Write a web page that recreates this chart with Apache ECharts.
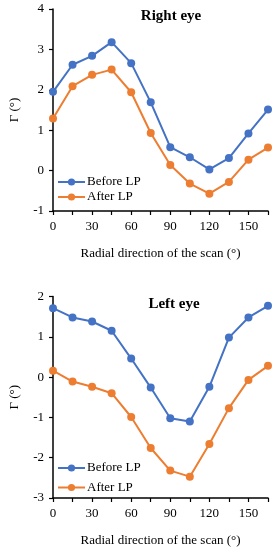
<!DOCTYPE html>
<html>
<head>
<meta charset="utf-8">
<script src="https://cdn.jsdelivr.net/npm/echarts@6/dist/echarts.min.js"></script>
<style>
html,body{margin:0;padding:0;background:#fff;}
#c{width:276px;height:550px;}
</style>
</head>
<body>
<div id="c"></div>
<script>
const angles = [0, 15, 30, 45, 60, 75, 90, 105, 120, 135, 150, 165];
const rightBefore = [1.95, 2.62, 2.84, 3.18, 2.66, 1.69, 0.58, 0.33, 0.03, 0.31, 0.92, 1.51];
const rightAfter = [1.29, 2.09, 2.37, 2.50, 1.94, 0.93, 0.14, -0.32, -0.57, -0.28, 0.27, 0.57];
const leftBefore = [1.71, 1.48, 1.38, 1.15, 0.46, -0.26, -1.02, -1.10, -0.24, 0.98, 1.48, 1.77];
const leftAfter = [0.16, -0.11, -0.24, -0.40, -0.99, -1.76, -2.32, -2.47, -1.66, -0.77, -0.07, 0.28];
const titles = ['Right eye', 'Left eye'];
const seriesNames = ['Before LP', 'After LP'];
const xName = 'Radial direction of the scan (°)';
const yName = 'Γ (°)';

const FONT = 'Liberation Serif';
const BLUE = '#4472C4', ORANGE = '#ED7D31';

function pairs(vals){ return angles.map((a,i)=>[a, vals[i]]); }

function xAxis(gi){
  return {
    type:'value', gridIndex:gi, min:0, max:165, interval:15,
    name:xName, nameLocation:'middle', nameGap:36,
    nameTextStyle:{fontFamily:FONT, fontSize:13, color:'#000'},
    axisLine:{show:true, onZero:false, lineStyle:{color:'#000', width:1.5}},
    axisTick:{show:true, inside:false, length:4, lineStyle:{color:'#000', width:1.2}},
    axisLabel:{fontFamily:FONT, fontSize:13, color:'#000', margin:9,
      formatter:v=> (v % 30 === 0 && v <= 150) ? String(v) : ''},
    splitLine:{show:false}
  };
}
function yAxis(gi, min, max){
  return {
    type:'value', gridIndex:gi, min:min, max:max, interval:1,
    name:yName, nameLocation:'middle', nameGap:32,
    nameTextStyle:{fontFamily:FONT, fontSize:13, color:'#000'},
    axisLine:{show:true, lineStyle:{color:'#000', width:1.5}},
    axisTick:{show:true, inside:false, length:4, lineStyle:{color:'#000', width:1.2}},
    axisLabel:{fontFamily:FONT, fontSize:13, color:'#000', margin:9},
    splitLine:{show:false}
  };
}
function line(name, vals, color, gi){
  return {
    name:name, type:'line', xAxisIndex:gi, yAxisIndex:gi,
    data:pairs(vals), symbol:'circle', symbolSize:8,
    lineStyle:{color:color, width:2}, itemStyle:{color:color},
    emphasis:{disabled:true}, animation:false
  };
}
function legend(top, gap){
  return {orient:'vertical', left:57, top:top, padding:0, itemWidth:27, itemHeight:9, itemGap:gap,
    data:seriesNames.map(n=>({name:n})),
    textStyle:{fontFamily:FONT, fontSize:13, color:'#000', padding:[0,0,0,-3]},
    selectedMode:false};
}

const chart = echarts.init(document.getElementById('c'), null, {renderer:'canvas'});
chart.setOption({
  animation:false,
  backgroundColor:'#fff',
  title:[
    {text:titles[0], left:166, top:4, textAlign:'center',
     textStyle:{fontFamily:FONT, fontSize:15, fontWeight:'bold', color:'#000'}},
    {text:titles[1], left:169, top:292, textAlign:'center',
     textStyle:{fontFamily:FONT, fontSize:15, fontWeight:'bold', color:'#000'}}
  ],
  legend:[legend(175.5, 2), legend(461.5, 6.5)],
  grid:[
    {left:41, top:9, width:227, height:202},
    {left:41, top:296.5, width:227, height:201.5}
  ],
  xAxis:[xAxis(0), xAxis(1)],
  yAxis:[yAxis(0,-1,4), yAxis(1,-3,2)],
  series:[
    line(seriesNames[0], rightBefore, BLUE, 0),
    line(seriesNames[1], rightAfter, ORANGE, 0),
    line(seriesNames[0], leftBefore, BLUE, 1),
    line(seriesNames[1], leftAfter, ORANGE, 1)
  ]
});
</script>
</body>
</html>
